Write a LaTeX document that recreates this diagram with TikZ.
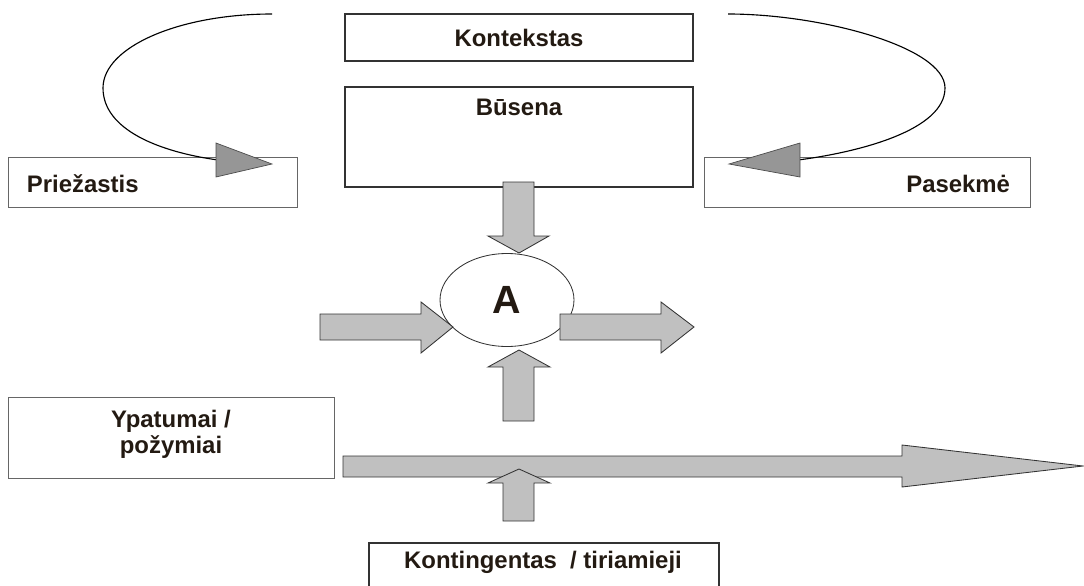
\documentclass[tikz,border=0pt]{standalone}
\usepackage{fontspec}
\setmainfont{Liberation Sans}
\usepackage{tikz}
\usetikzlibrary{calc,shapes.geometric}

\definecolor{arrowgray}{HTML}{C0C0C0}
\definecolor{headgray}{HTML}{969696}
\definecolor{textbrown}{HTML}{231A12}
\newcommand{\px}{0.025cm}

\begin{document}
\begin{tikzpicture}[x=0.025cm, y=-0.025cm,
    every node/.style={font=\fontsize{17}{18.5}\selectfont\bfseries, text=textbrown},
    thickbox/.style={draw=black!80, line width=1.6pt, inner sep=0pt},
    thinbox/.style={draw=black!60, line width=0.6pt, inner sep=0pt},
    blockarrow/.style={fill=arrowgray, draw=black!80, line width=0.6pt},
    curvehead/.style={fill=headgray, draw=black!70, line width=0.5pt}]
      \useasboundingbox (0, 0) rectangle (1084, 585);
      % boxes
      \node[thickbox, minimum width=348*\px, minimum height=47*\px] (kontekstas) at (519, 37.5) {Kontekstas};
      \node[thickbox, minimum width=348*\px, minimum height=100*\px] (busena) at (519, 137) {};
      \node (busenatxt) at (519, 107) {Būsena};
      \node[thinbox, minimum width=289*\px, minimum height=50*\px] (priezastis) at (152.5, 182) {};
      \node[anchor=west] (priezastistxt) at (22, 184) {Priežastis};
      \node[thinbox, minimum width=326*\px, minimum height=50*\px] (pasekme) at (867, 182) {};
      \node[anchor=east] (pasekmetxt) at (1015, 184) {Pasekmė};
      \node[thinbox, minimum width=326*\px, minimum height=81*\px] (ypatumai) at (171, 437.5) {};
      \node[align=center] (ypatumaitxt) at (171, 434) {Ypatumai /\\požymiai};
      \node[thickbox, minimum width=350*\px, minimum height=50*\px] (kontingentas) at (544, 568) {};
      \node (kontingentastxt) at (543, 562) {Kontingentas\ \ / tiriamieji};
      % ellipse
      \node[ellipse, draw=black!80, line width=0.6pt, minimum width=134*\px, minimum height=93*\px, inner sep=0pt,
            font=\fontsize{28}{30}\selectfont\bfseries] (A) at (507, 300) {A};
      % curved arrows
      \draw[line width=0.8pt] (272, 14) .. controls (179, 14) and (103, 47) .. (103, 88)
            .. controls (103, 130) and (160, 152) .. (218, 160);
      \draw[curvehead] (216, 143) -- (272, 164) -- (216, 177) -- cycle;
      \draw[line width=0.8pt] (728, 14) .. controls (821, 14) and (945, 47) .. (945, 88)
            .. controls (945, 130) and (860, 152) .. (798, 160);
      \draw[curvehead] (800, 143) -- (729, 164) -- (800, 177) -- cycle;
      % block arrows
      \draw[blockarrow] (503, 182) -- (534, 182) -- (534, 236) -- (549, 236) -- (519, 253) -- (488, 236) -- (503, 236) -- cycle;
      \draw[blockarrow] (320, 314) -- (421, 314) -- (421, 302) -- (453, 327) -- (421, 353) -- (421, 340) -- (320, 340) -- cycle;
      \draw[blockarrow] (560, 314) -- (661, 314) -- (661, 302) -- (694, 327) -- (661, 353) -- (661, 340) -- (560, 340) -- cycle;
      \draw[blockarrow] (503, 421) -- (503, 367) -- (488, 367) -- (519, 350) -- (550, 367) -- (534, 367) -- (534, 421) -- cycle;
      \draw[blockarrow] (343, 456) -- (902, 456) -- (902, 445) -- (1083, 466) -- (902, 487) -- (902, 477) -- (343, 477) -- cycle;
      \draw[blockarrow] (503, 521) -- (503, 483) -- (488, 483) -- (519, 469) -- (550, 483) -- (534, 483) -- (534, 521) -- cycle;
    \end{tikzpicture}
\end{document}
